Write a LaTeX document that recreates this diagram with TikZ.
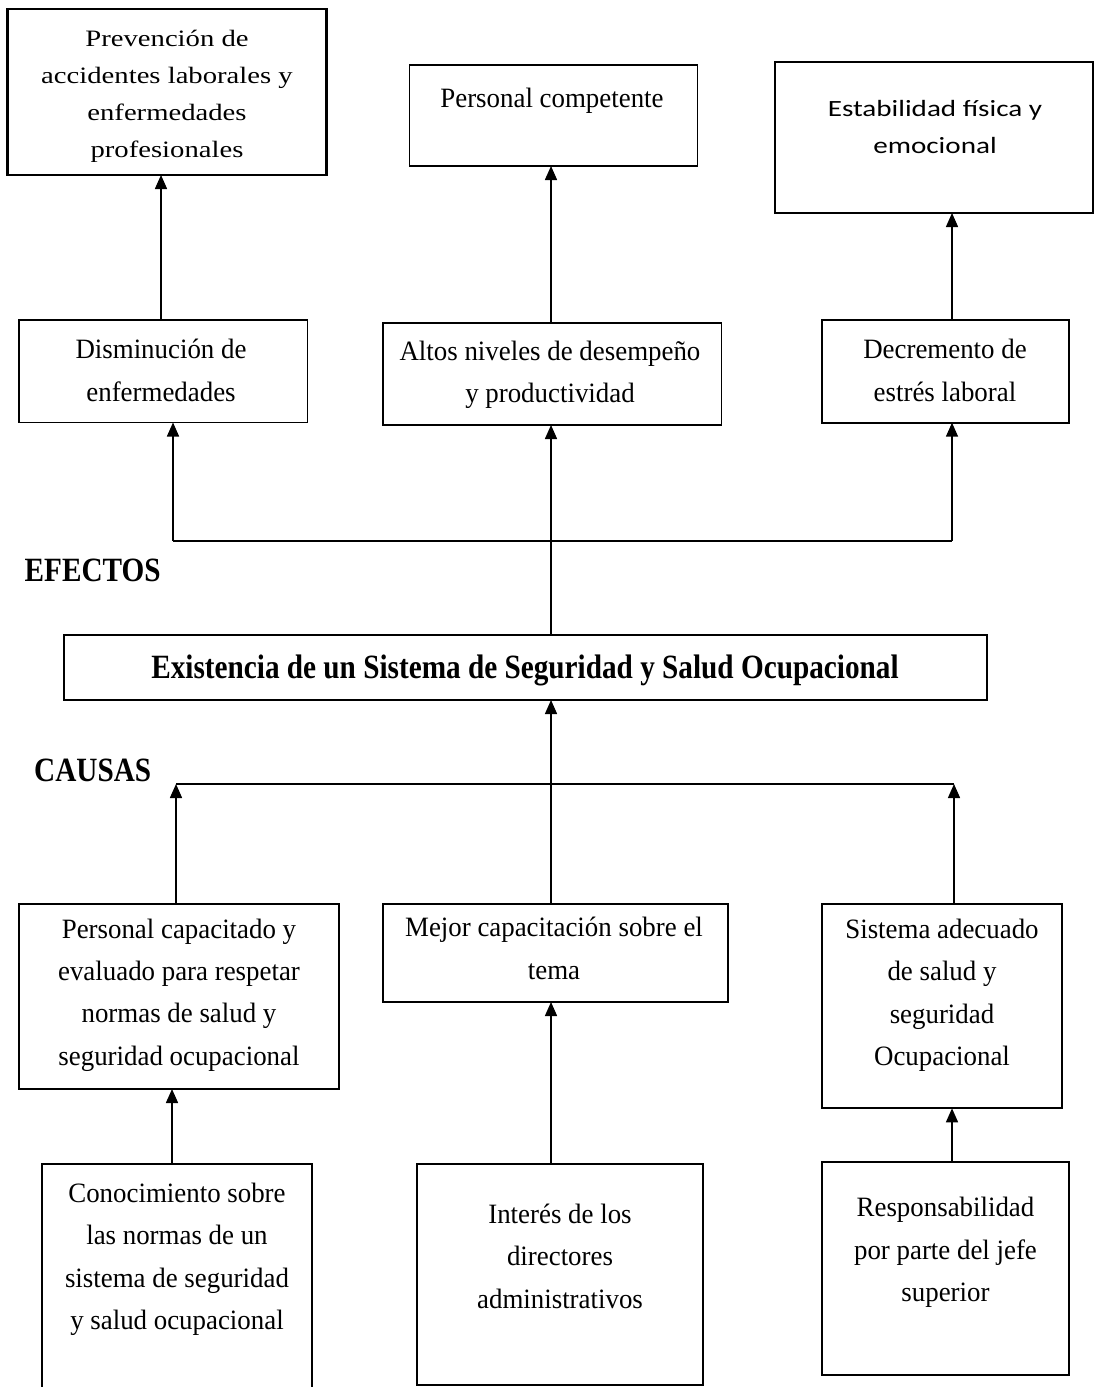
\documentclass[tikz,border=0pt]{standalone}
\usepackage{fontspec}
\setmainfont{Liberation Serif}
\newfontfamily\nf[FakeStretch=0.96]{Liberation Serif}
\newfontfamily\wf[FakeStretch=1.22]{Liberation Serif}
\newfontfamily\cf[FakeStretch=1.25]{Carlito}
\newfontfamily\bfx[FakeStretch=0.86]{Liberation Serif}
\usetikzlibrary{arrows.meta}
\tikzset{
  box/.style={draw, line width=1.9pt, inner sep=0pt, outer sep=0pt},
  thickbox/.style={box, line width=2.8pt},
  txt/.style={align=center, inner sep=0pt, anchor=base, font=\nf\fontsize{28}{42.3}\selectfont},
  txtw/.style={txt, font=\wf\fontsize{23.5}{36.7}\selectfont},
  txtc/.style={txt, font=\cf\fontsize{23.3}{37}\selectfont},
  ttl/.style={inner sep=0pt, anchor=base west, font=\bfx\bfseries\fontsize{34}{40}\selectfont},
  bigt/.style={inner sep=0pt, anchor=base, font=\bfx\bfseries\fontsize{34}{40}\selectfont},
  arr/.style={line width=1.5pt, -{Triangle[width=12pt,length=14pt]}},
  ln/.style={line width=1.5pt},
}
\begin{document}
\begin{tikzpicture}[x=1pt,y=-1pt]
\fill[white] (0,0) rectangle (1094,1387);
\useasboundingbox (0,0) rectangle (1094,1387);

% boxes
\node[thickbox, minimum width=319, minimum height=166] (prev) at (167,92) {};
\node[box, minimum width=288, minimum height=101] (pcomp) at (553.5,115.5) {};
\node[thickbox, minimum width=318, minimum height=151] (estab) at (934,137.5) {};
\node[box, minimum width=288.5, minimum height=102.5] (dism) at (163.25,371.25) {};
\node[box, minimum width=338.7, minimum height=102.3] (altos) at (552.15,373.85) {};
\node[box, minimum width=247.7, minimum height=102.7] (decr) at (945.45,371.35) {};
\node[box, minimum width=923, minimum height=65.3] (exist) at (525.5,667.35) {};
\node[box, minimum width=319.8, minimum height=185] (pcap) at (179.1,996.5) {};
\node[box, minimum width=345.6, minimum height=98] (mejor) at (555.6,953) {};
\node[box, minimum width=240.8, minimum height=204] (sisad) at (942,1006.3) {};
\node[box, minimum width=270, minimum height=235.7] (conoc) at (176.7,1282.15) {};
\node[box, minimum width=286.6, minimum height=220.7] (inter) at (560,1274.65) {};
\node[box, minimum width=247.6, minimum height=212.7] (resp) at (945.5,1268.65) {};

% texts (anchor = baseline of the last line)
\node[txtw] (tprev) at (167,157) {Prevención de\\accidentes laborales y\\enfermedades\\profesionales};
\node[txt] (tpcomp) at (552,107) {Personal competente};
\node[txtc] (testab) at (935,153.3) {Estabilidad física y\\emocional};
\node[txt] (tdism) at (161,401) {Disminución de\\enfermedades};
\node[txt] (taltos) at (550,402.5) {Altos niveles de desempeño\\y productividad};
\node[txt] (tdecr) at (945,401) {Decremento de\\estrés laboral};
\node[ttl] (efectos) at (24.5,581) {EFECTOS};
\node[bigt] (texist) at (525,678.5) {Existencia de un Sistema de Seguridad y Salud Ocupacional};
\node[ttl] (causas) at (34,781) {CAUSAS};
\node[txt] (tpcap) at (179,1065) {Personal capacitado y\\evaluado para respetar\\normas de salud y\\seguridad ocupacional};
\node[txt] (tmejor) at (554,979) {Mejor capacitación sobre el\\tema};
\node[txt] (tsisad) at (942,1065.5) {Sistema adecuado\\de salud y\\seguridad\\Ocupacional};
\node[txt] (tconoc) at (177,1329.5) {Conocimiento sobre\\las normas de un\\sistema de seguridad\\y salud ocupacional};
\node[txt] (tinter) at (560,1308) {Interés de los\\directores\\administrativos};
\node[txt] (tresp) at (945.5,1301.5) {Responsabilidad\\por parte del jefe\\superior};

% connector coordinates
\coordinate (c1) at (161,0);
\coordinate (c2) at (551,0);
\coordinate (c3) at (952,0);
\coordinate (ejL) at (173,541);
\coordinate (ejR) at (952,541);
\coordinate (cjL) at (176,784);
\coordinate (cjR) at (954,784);
\coordinate (b1) at (172,0);

% top arrows
\draw[arr] (dism.north -| c1) -- (prev.south -| c1);
\draw[arr] (altos.north -| c2) -- (pcomp.south -| c2);
\draw[arr] (decr.north -| c3) -- (estab.south -| c3);

% efectos
\draw[arr] (exist.north -| c2) -- (altos.south -| c2);
\draw[ln] (ejL) -- (ejR);
\draw[arr] (ejL) -- (dism.south -| ejL);
\draw[arr] (ejR) -- (decr.south -| ejR);

% causas
\draw[arr] (mejor.north -| c2) -- (exist.south -| c2);
\draw[ln] (cjL) -- (cjR);
\draw[arr] (pcap.north -| cjL) -- (cjL);
\draw[arr] (sisad.north -| cjR) -- (cjR);

% bottom
\draw[arr] (conoc.north -| b1) -- (pcap.south -| b1);
\draw[arr] (inter.north -| c2) -- (mejor.south -| c2);
\draw[arr] (resp.north -| c3) -- (sisad.south -| c3);
\end{tikzpicture}
\end{document}
